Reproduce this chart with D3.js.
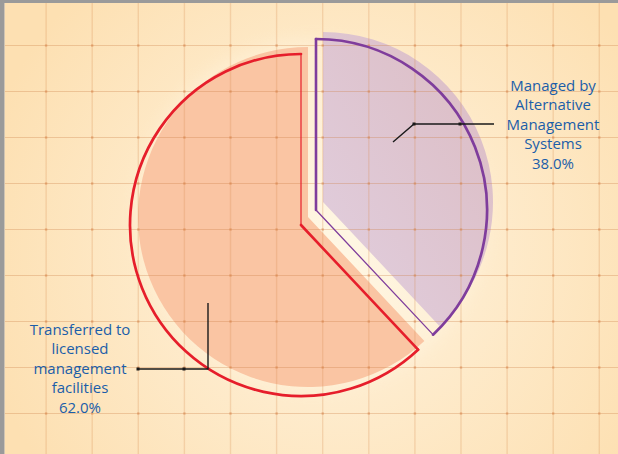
<!DOCTYPE html>
<html>
<head>
<meta charset="utf-8">
<script src="https://cdn.jsdelivr.net/npm/d3@7"></script>
<style>
  html, body { margin: 0; padding: 0; background: #fde3b8; }
  svg { display: block; }
  .label { font-family: "Open Sans", sans-serif; font-size: 15px; fill: #1b5ea9; }
</style>
</head>
<body>
<div id="chart"></div>
<script>
const width = 618;
const height = 454;

// data
const categories = ['Managed by Alternative Management Systems', 'Transferred to licensed management facilities'];
const shares = [38.0, 62.0];
const labelLines = [
    ['Managed by', 'Alternative', 'Management', 'Systems', '38.0%'],
    ['Transferred to', 'licensed', 'management', 'facilities', '62.0%']
];

// layout / style
const cx = 308, cy = 217, radius = 170;
const explode = [[15, -15], [0, 0]];      // purple slice is pulled out up-right
const outlineShift = [-7, 8];             // the drawn outline sits a bit down-left of the fill
const fillColors = ['url(#purpleFill)', '#fac5a3'];
const strokeColors = ['#7f3d9c', '#e61e2b'];
const edgeWidths = [[2.6, 1.3], [2.6, 1.2]];   // start edge, end edge

const labels = [
    { x: 553, y: 91, leader: [[393, 142], [414, 124], [494, 124]], marks: [[414, 124], [460, 124]] },
    { x: 80, y: 335, leader: [[208, 303], [208, 369], [138, 369]], marks: [[138, 369], [184, 369]] }
];

const svg = d3.select('#chart').append('svg')
    .attr('width', width)
    .attr('height', height);

const defs = svg.append('defs');

const bg = defs.append('radialGradient')
    .attr('id', 'bg')
    .attr('gradientUnits', 'userSpaceOnUse')
    .attr('cx', 330).attr('cy', 250).attr('r', 360);
bg.append('stop').attr('offset', 0).attr('stop-color', '#fff7e4');
bg.append('stop').attr('offset', 0.4).attr('stop-color', '#feecce');
bg.append('stop').attr('offset', 1).attr('stop-color', '#fde0b2');

const pg = defs.append('linearGradient')
    .attr('id', 'purpleFill')
    .attr('x1', 0).attr('y1', 1).attr('x2', 1).attr('y2', 0);
pg.append('stop').attr('offset', 0).attr('stop-color', '#e1cfe0');
pg.append('stop').attr('offset', 1).attr('stop-color', '#dcbcc2');

defs.append('filter').attr('id', 'glow')
    .attr('x', '-20%').attr('y', '-20%').attr('width', '140%').attr('height', '140%')
    .append('feGaussianBlur').attr('stdDeviation', 8);

svg.append('rect')
    .attr('width', width)
    .attr('height', height)
    .attr('fill', 'url(#bg)');

// soft light halo behind the pie
svg.append('circle')
    .attr('cx', cx + 4).attr('cy', cy - 2).attr('r', 176)
    .attr('fill', '#fff8e6')
    .attr('opacity', 0.35)
    .attr('filter', 'url(#glow)');

const pie = d3.pie().sort(null).value(d => d);
const arcs = pie(shares);

const arcFill = d3.arc().innerRadius(0).outerRadius(radius);

// filled sectors
svg.selectAll('.slice')
    .data(arcs)
    .enter()
    .append('path')
    .attr('class', 'slice')
    .attr('transform', (d, i) => `translate(${cx + explode[i][0]}, ${cy + explode[i][1]})`)
    .attr('d', arcFill)
    .attr('fill', (d, i) => fillColors[i]);

// grid on top, showing through the fills
const xs = d3.range(1, 14).map(k => k * 46.1);
const ys = d3.range(1, 10).map(k => k * 46 - 0.5);
const grid = svg.append('g');
grid.selectAll('.vline')
    .data(xs)
    .enter()
    .append('line')
    .attr('x1', d => d).attr('x2', d => d)
    .attr('y1', 0).attr('y2', height)
    .attr('stroke', 'rgb(214,140,80)')
    .attr('stroke-opacity', 0.25)
    .attr('stroke-width', 1.4);
grid.selectAll('.hline')
    .data(ys)
    .enter()
    .append('line')
    .attr('y1', d => d).attr('y2', d => d)
    .attr('x1', 0).attr('x2', width)
    .attr('stroke', 'rgb(206,128,72)')
    .attr('stroke-opacity', 0.32)
    .attr('stroke-width', 1.2);
grid.selectAll('.dot')
    .data(d3.cross(xs, ys))
    .enter()
    .append('rect')
    .attr('x', d => d[0] - 1.2).attr('y', d => d[1] - 1.2)
    .attr('width', 2.4).attr('height', 2.4)
    .attr('fill', 'rgb(210,120,60)')
    .attr('opacity', 0.4);

// outlines: arc plus the two radial edges, each with its own weight
const outlines = svg.selectAll('.outline')
    .data(arcs)
    .enter()
    .append('g')
    .attr('class', 'outline')
    .attr('transform', (d, i) => `translate(${cx + explode[i][0] + outlineShift[0]}, ${cy + explode[i][1] + outlineShift[1]})`)
    .attr('fill', 'none')
    .attr('stroke', (d, i) => strokeColors[i])
    .attr('stroke-linejoin', 'round')
    .attr('stroke-linecap', 'round');

outlines.append('path')
    .attr('d', d => {
        const p = d3.path();
        p.arc(0, 0, radius + 1, d.startAngle - Math.PI / 2, d.endAngle - Math.PI / 2);
        return p.toString();
    })
    .attr('stroke-width', 2.7);

outlines.append('line')
    .attr('x1', 0).attr('y1', 0)
    .attr('x2', d => d3.pointRadial(d.startAngle, radius + 1)[0])
    .attr('y2', d => d3.pointRadial(d.startAngle, radius + 1)[1])
    .attr('stroke-width', (d, i) => edgeWidths[i][0]);

outlines.append('line')
    .attr('x1', 0).attr('y1', 0)
    .attr('x2', d => d3.pointRadial(d.endAngle, radius + 1)[0])
    .attr('y2', d => d3.pointRadial(d.endAngle, radius + 1)[1])
    .attr('stroke-width', (d, i) => edgeWidths[i][1]);

// leaders and labels
labels.forEach((l, i) => {
    svg.append('path')
        .attr('d', d3.line()(l.leader))
        .attr('fill', 'none')
        .attr('stroke', '#1a1a1a')
        .attr('stroke-width', 1.4);
    svg.selectAll(null)
        .data(l.marks)
        .enter()
        .append('rect')
        .attr('x', d => d[0] - 1.5).attr('y', d => d[1] - 1.5)
        .attr('width', 3).attr('height', 3)
        .attr('fill', '#1a1a1a');
    const t = svg.append('text')
        .attr('class', 'label')
        .attr('text-anchor', 'middle')
        .attr('y', l.y);
    t.append('title').text(categories[i]);
    labelLines[i].forEach((line, j) => {
        t.append('tspan')
            .attr('x', l.x)
            .attr('dy', j === 0 ? 0 : 19.4)
            .text(line);
    });
});

// grey frame on top and left
svg.append('rect').attr('x', 0).attr('y', 0).attr('width', width).attr('height', 3).attr('fill', '#9a9a9a');
svg.append('rect').attr('x', 0).attr('y', 0).attr('width', 4).attr('height', height).attr('fill', '#9a9a9a');
svg.append('rect').attr('x', 4).attr('y', 3).attr('width', 1).attr('height', height).attr('fill', '#cfc4b4');
</script>
</body>
</html>
